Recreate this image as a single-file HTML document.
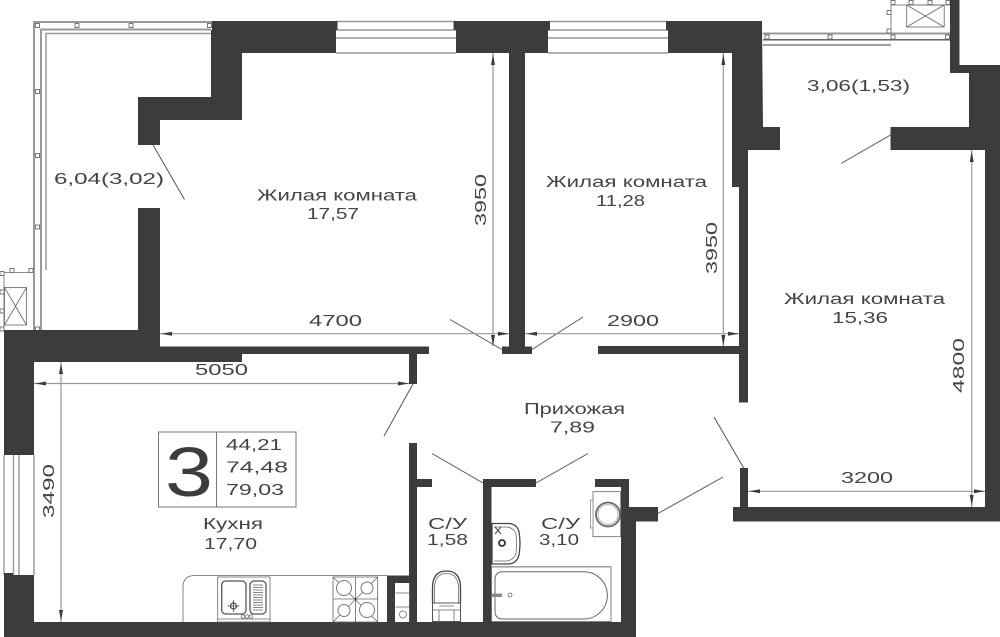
<!DOCTYPE html>
<html><head><meta charset="utf-8"><style>
html,body{margin:0;padding:0;background:#fff;width:1000px;height:637px;overflow:hidden}
svg{display:block}
text{font-family:"Liberation Sans",sans-serif;fill:#444;font-size:15.5px}
.w{fill:#3c3c3b}
.d{stroke:#999;stroke-width:1.2;fill:none}
.a{fill:#3c3c3b}
.s{stroke:#555;stroke-width:1;fill:none}
.g{stroke:#999;fill:none}
.t{stroke:#666;stroke-width:.8;fill:none}
.f{stroke:#777;stroke-width:1;fill:#fff}
</style></head><body>
<svg width="1000" height="637" viewBox="0 0 1000 637" xmlns="http://www.w3.org/2000/svg">
<rect width="1000" height="637" fill="#fff"/>

<!-- left balcony -->
<polyline class="g" stroke-width="2" points="34,330 34,22 212,22"/>
<polyline class="g" stroke-width="2" points="41,330 41,29.5 211,29.5"/>
<polyline class="g" stroke-width="1.5" points="46,270 46,33.5 211,33.5"/>
<rect class="f" x="35.5" y="23.5" width="4" height="4"/><rect class="f" x="75" y="23.5" width="4" height="4"/><rect class="f" x="129" y="23.5" width="4" height="4"/><rect class="f" x="207.5" y="23.5" width="4" height="4"/>
<rect class="f" x="35.5" y="89.5" width="4" height="4"/><rect class="f" x="35.5" y="153.5" width="4" height="4"/><rect class="f" x="35.5" y="225" width="4" height="4"/><rect class="f" x="35.5" y="327" width="4" height="4"/>
<!-- left AC -->
<polyline class="t" points="0,272.5 33,272.5"/><line class="t" x1="4" y1="272" x2="4" y2="330"/>
<rect class="t" x="4.5" y="287.5" width="22" height="37.5"/><path class="t" d="M4.5 287.5L26.5 325M26.5 287.5L4.5 325"/>
<rect class="f" x="10" y="268.5" width="4" height="4"/><rect class="f" x="29" y="268.5" width="4" height="4"/>
<rect class="f" x="0" y="271.5" width="4" height="4"/><rect class="f" x="0" y="290" width="4" height="4"/><rect class="f" x="0" y="309" width="4" height="4"/><rect class="f" x="0" y="327" width="4" height="4"/>

<!-- right balcony -->
<line class="g" stroke-width="2" x1="763" y1="33.5" x2="950" y2="33.5"/>
<line class="g" stroke-width="1.3" style="stroke:#555" x1="763" y1="39.8" x2="950" y2="39.8"/>
<line class="g" stroke-width="1.3" style="stroke:#666" x1="763" y1="45" x2="891" y2="45"/>
<rect class="f" x="765" y="35" width="4" height="4"/><rect class="f" x="828" y="35" width="4" height="4"/><rect class="f" x="891" y="35" width="4" height="4"/><rect class="f" x="945.500" y="35" width="4" height="4"/>
<path class="t" d="M891 32V5H950"/>
<rect class="t" x="906.700" y="5" width="37.500" height="22"/><path class="t" d="M906.700 5L944.200 27M944.200 5L906.700 27"/>
<rect class="f" x="891" y="0.500" width="4" height="4"/><rect class="f" x="909" y="0.500" width="4" height="4"/><rect class="f" x="928" y="0.500" width="4" height="4"/><rect class="f" x="946" y="0.500" width="4" height="4"/>
<rect class="f" x="887" y="10.500" width="4" height="4"/><rect class="f" x="887" y="29" width="4" height="4"/>

<!-- top windows -->
<g class="g" stroke-width="1.4">
<line x1="336" y1="21.5" x2="456" y2="21.5"/><line x1="336" y1="30" x2="456" y2="30"/><line x1="336" y1="38" x2="456" y2="38"/><line x1="336" y1="53" x2="456" y2="53"/>
<line x1="548" y1="21.5" x2="668" y2="21.5"/><line x1="548" y1="30" x2="668" y2="30"/><line x1="548" y1="38" x2="668" y2="38"/><line x1="548" y1="53" x2="668" y2="53"/>
</g>
<!-- left window -->
<g class="g" stroke-width="1.4">
<line x1="4" y1="455" x2="4" y2="575"/><line x1="13.5" y1="455" x2="13.5" y2="575"/><line x1="19" y1="455" x2="19" y2="575"/><line x1="34" y1="455" x2="34" y2="575"/>
</g>

<!-- walls -->
<g class="w">
<polygon points="212,21 337.5,21 337.5,30 336,30 336,53 242,53 242,120 160,120 160,145 138,145 138,97 211,97 211,30 212,30"/>
<polygon points="453.5,21 550,21 550,30 548,30 548,53 456,53 456,30 453.5,30"/>
<polygon points="666,21 762,21 763,127 780,127 780,150 748,150 748,402.5 739,402.5 739,354 598,354 598,346 739,346 739,187 732,187 732,53 668,53 668,30 666,30"/>
<polygon points="950,0 959.5,0 959.5,65 1000,65 1000,521.5 733,521.5 733,507 740,507 740,468 748,468 748,507 985,507 985,150 890.5,150 890.5,127 969,127 969,73 950,73"/>
<polygon points="4,330 138,330 138,208 160,208 160,346.5 429,346.5 429,354 242,354 242,362 34,362 34,455 4,455"/>
<polygon points="509,53 525,53 525,346.5 532,346.5 532,354 502,354 502,346.5 509,346.5"/>
<rect x="409" y="354" width="8" height="30"/>
<polygon points="409,443 417,443 417,479 432,479 432,487 417,487 417,622 409,622"/>
<polygon points="483,479 536,479 536,487 491.5,487 491.5,622 483,622"/>
<polygon points="595,479 629,479 629,507 658,507 658,521.5 636,521.5 636,637 4,637 4,573 13,573 13,575 34,575 34,622 621,622 621,487 595,487"/>
<polygon points="387,575.5 409,575.5 409,583 395,583 395,622 387,622"/>
</g>

<!-- door swings -->
<g class="s">
<line x1="153" y1="145" x2="184.5" y2="199.5"/>
<line x1="890.5" y1="135" x2="841" y2="163.5"/>
<line x1="502" y1="349.5" x2="450" y2="319.5"/>
<line x1="532" y1="349.5" x2="583" y2="317"/>
<line x1="413" y1="384" x2="384" y2="436"/>
<line x1="483" y1="483" x2="432" y2="453.5"/>
<line x1="536" y1="483" x2="588" y2="453.5"/>
<line x1="744" y1="468.5" x2="714" y2="417"/>
<line x1="658" y1="513.5" x2="723" y2="477"/>
</g>

<!-- dimensions -->
<g class="d">
<line x1="160" y1="333.7" x2="509" y2="333.7"/>
<line x1="525" y1="333.7" x2="739" y2="333.7"/>
<line x1="493" y1="53" x2="493" y2="346"/>
<line x1="723.3" y1="53" x2="723.3" y2="346"/>
<line x1="34" y1="383.5" x2="409" y2="383.5"/>
<line x1="61" y1="362" x2="61" y2="622"/>
<line x1="748" y1="491.3" x2="985" y2="491.3"/>
<line x1="971.7" y1="150" x2="971.7" y2="507"/>
</g>
<g class="a">
<polygon points="161,333.7 172,331.7 172,335.7"/><polygon points="509,333.7 498,331.7 498,335.7"/>
<polygon points="526,333.7 537,331.7 537,335.7"/><polygon points="739,333.7 728,331.7 728,335.7"/>
<polygon points="493,54 491,65 495,65"/><polygon points="493,346 491,335 495,335"/>
<polygon points="723.3,54 721.3,65 725.3,65"/><polygon points="723.3,346 721.3,335 725.3,335"/>
<polygon points="35,383.5 46,381.5 46,385.5"/><polygon points="409,383.5 398,381.5 398,385.5"/>
<polygon points="61,363 59,374 63,374"/><polygon points="61,621 59,610 63,610"/>
<polygon points="749,491.3 760,489.3 760,493.3"/><polygon points="985,491.3 974,489.3 974,493.3"/>
<polygon points="971.7,151 969.7,162 973.7,162"/><polygon points="971.7,506 969.7,495 973.7,495"/>
</g>

<!-- info box -->
<rect x="158.5" y="432" width="137.5" height="75" fill="none" stroke="#777" stroke-width="1"/>
<line x1="216.5" y1="432" x2="216.5" y2="507" stroke="#777" stroke-width="1"/>
<text x="165" y="496" style="font-size:70px;fill:#3c3c3b" textLength="48" lengthAdjust="spacingAndGlyphs">3</text>
<text x="226" y="450" style="font-size:16px" textLength="56" lengthAdjust="spacingAndGlyphs">44,21</text>
<text x="226" y="472.5" style="font-size:16px" textLength="62" lengthAdjust="spacingAndGlyphs">74,48</text>
<text x="226" y="495" style="font-size:16px" textLength="58" lengthAdjust="spacingAndGlyphs">79,03</text>

<!-- labels -->
<text x="54" y="184" textLength="110" lengthAdjust="spacingAndGlyphs">6,04(3,02)</text>
<text x="257" y="200.5" textLength="160" lengthAdjust="spacingAndGlyphs">Жилая комната</text>
<text x="307" y="219" textLength="52" lengthAdjust="spacingAndGlyphs">17,57</text>
<text x="546" y="187" textLength="161" lengthAdjust="spacingAndGlyphs">Жилая комната</text>
<text x="596" y="206" textLength="49" lengthAdjust="spacingAndGlyphs">11,28</text>
<text x="807" y="91" textLength="103" lengthAdjust="spacingAndGlyphs">3,06(1,53)</text>
<text x="784" y="304" textLength="161" lengthAdjust="spacingAndGlyphs">Жилая комната</text>
<text x="832" y="323" textLength="56" lengthAdjust="spacingAndGlyphs">15,36</text>
<text x="309" y="326" textLength="53" lengthAdjust="spacingAndGlyphs">4700</text>
<text x="607" y="326" textLength="52" lengthAdjust="spacingAndGlyphs">2900</text>
<text x="195" y="375" textLength="53" lengthAdjust="spacingAndGlyphs">5050</text>
<text x="841" y="483" textLength="52" lengthAdjust="spacingAndGlyphs">3200</text>
<text x="524" y="414" textLength="101" lengthAdjust="spacingAndGlyphs">Прихожая</text>
<text x="550" y="432.5" textLength="45" lengthAdjust="spacingAndGlyphs">7,89</text>
<text x="203" y="529" textLength="60" lengthAdjust="spacingAndGlyphs">Кухня</text>
<text x="204" y="549" textLength="53" lengthAdjust="spacingAndGlyphs">17,70</text>
<text x="428" y="529" textLength="39" lengthAdjust="spacingAndGlyphs">С/У</text>
<text x="427" y="545" textLength="41" lengthAdjust="spacingAndGlyphs">1,58</text>
<text x="541" y="529" textLength="39" lengthAdjust="spacingAndGlyphs">С/У</text>
<text x="539" y="545" textLength="40" lengthAdjust="spacingAndGlyphs">3,10</text>
<text transform="translate(486,226) rotate(-90)" textLength="52" lengthAdjust="spacingAndGlyphs">3950</text>
<text transform="translate(717,274) rotate(-90)" textLength="52" lengthAdjust="spacingAndGlyphs">3950</text>
<text transform="translate(964,393) rotate(-90)" textLength="55" lengthAdjust="spacingAndGlyphs">4800</text>
<text transform="translate(54,518) rotate(-90)" textLength="54" lengthAdjust="spacingAndGlyphs">3490</text>

<!-- kitchen -->
<path class="t" d="M183 622V587Q183 575.5 195 575.5H387"/>
<rect class="t" x="217.7" y="577" width="52.3" height="45"/>
<line class="t" x1="217.7" y1="619" x2="270" y2="619"/>
<rect x="221.7" y="581" width="24.3" height="33" rx="4" fill="none" stroke="#555" stroke-width="1.3"/>
<rect x="250" y="581" width="16" height="33" rx="4" fill="none" stroke="#555" stroke-width="1.3"/>
<path stroke="#666" stroke-width=".8" fill="none" d="M253 585H263M253 587.5H263M253 590H263M253 592.5H263M253 595H263M253 597.5H263M253 600H263M253 602.5H263M253 605H263M253 607.5H263M253 610H263"/>
<circle cx="233.5" cy="606" r="3" fill="none" stroke="#444" stroke-width="1.2"/>
<path stroke="#444" stroke-width=".8" d="M227.5 606H239.5M233.5 600V612"/>
<circle class="t" cx="243" cy="616.5" r="1.8"/><circle class="t" cx="247" cy="616.5" r="1.8"/><circle class="t" cx="251" cy="616.5" r="1.8"/>
<rect class="t" x="333" y="577" width="44.7" height="45"/>
<path class="t" d="M333 577L377.7 622M377.7 577L333 622M355.5 577V622M333 599H377.7"/>
<circle class="f" cx="344" cy="588" r="7.5"/><circle class="f" cx="367" cy="588" r="6"/><circle class="f" cx="344" cy="610.5" r="6"/><circle class="f" cx="367" cy="610" r="7.5"/>
<circle cx="355.5" cy="599" r="1" fill="#333"/>
<path class="t" d="M395.5 593H410M395.5 607H409.5M409.5 583V622"/>
<circle class="t" cx="403" cy="614.5" r="3.5"/>

<!-- toilet -->
<path fill="none" stroke="#444" stroke-width="1.3" d="M432.5 603V588Q432.5 571 446.500 571Q460.500 571 460.500 588V603"/>
<path class="t" d="M434.500 603V589Q434.500 573.500 446.500 573.500Q458.500 573.500 458.500 589V603"/>
<rect x="432.500" y="603" width="28" height="18.500" fill="none" stroke="#555" stroke-width="1"/>
<path class="t" d="M432.500 610H460.500M439 610V621M454 610V621M439 606H454"/>

<!-- sink -->
<path fill="none" stroke="#444" stroke-width="1.300" d="M492 523.500H509Q517 524 519 532Q521 543 519 555Q517 563 509 564H492Z"/>
<path class="t" d="M494 527H507Q514 528 516 534Q517 543 516 553Q514 560 507 561H494"/>
<circle cx="502" cy="543" r="3" fill="none" stroke="#333" stroke-width="1.800"/>
<path stroke="#444" stroke-width="1" d="M495 527L501 534M501 527L495 534"/>

<!-- bath -->
<rect class="t" x="491.500" y="566.800" width="119.500" height="54.700"/>
<line x1="491.500" y1="566.800" x2="611" y2="566.800" stroke="#888" stroke-width="1.200"/>
<path d="M503 571.700H583.700A23.600 23.600 0 0 1 583.700 619H503Q495 619 495 611V579.700Q495 571.700 503 571.700Z" fill="none" stroke="#666" stroke-width="1"/>
<rect x="492" y="593.500" width="10" height="3.500" fill="#888"/>
<circle class="t" cx="510" cy="595" r="2"/>

<!-- washer -->
<rect class="t" x="593" y="491.700" width="27.700" height="45"/>
<rect x="590.500" y="500" width="2.500" height="28" fill="#fff" stroke="#888" stroke-width=".8"/>
<circle cx="608" cy="514.500" r="12" fill="none" stroke="#666" stroke-width="1.800"/>
<circle cx="608" cy="514.500" r="10" fill="none" stroke="#999" stroke-width=".7"/>
</svg>
</body></html>
